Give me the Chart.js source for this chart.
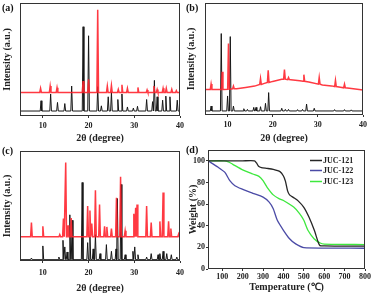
<!DOCTYPE html>
<html>
<head>
<meta charset="utf-8">
<script src="https://cdn.jsdelivr.net/npm/chart.js@4.4.0/dist/chart.umd.min.js"></script>
<style>
  body { margin: 0; background: #fff; }
  #fig { position: relative; width: 373px; height: 295px; overflow: hidden; }
  canvas { position: absolute; }
</style>
</head>
<body>
<div id="fig">
  <canvas id="pa" width="186" height="147" style="left:0;top:0"></canvas>
  <canvas id="pb" width="188" height="147" style="left:185px;top:0"></canvas>
  <canvas id="pc" width="186" height="150" style="left:0;top:145px"></canvas>
  <canvas id="pd" width="188" height="150" style="left:185px;top:145px"></canvas>
</div>
<script>
// XRD panels: peak positions (2θ) and peak tops (normalised intensity 0-100)
const xrdTicks = [10, 20, 30, 40];

// (a)
const aSimPos = [9.6, 11.7, 13.2, 14.8, 16.3, 18.8, 20.0, 22.0, 22.8, 24.3, 25.0, 26.4, 27.3, 28.5, 29.8, 30.7, 32.7, 34.0, 34.4, 35.0, 36.2, 36.9, 37.8, 39.4];
const aSimTop = [13.5, 19.5, 12, 11, 26.5, 79, 71, 26, 9, 17, 21, 14.6, 19.5, 8, 7, 8.6, 14.6, 12.7, 31.5, 17, 14, 17.6, 17, 14];
const aSimBase = 4.4;
const aExpPos = [9.5, 11.6, 13.1, 18.8, 20.0, 22.0, 24.1, 25.0, 26.5, 27.3, 28.5, 30.8, 32.8, 34.3, 35.0, 36.3, 37.0, 38.2, 39.2];
const aExpTop = [24.5, 26.5, 25, 31, 32.4, 94, 26.5, 27, 23.5, 27.6, 24.5, 25.3, 23, 26.5, 23.5, 24.5, 24.5, 23.5, 22.5];
const aExpBase = 20.8;

// (b)
const bSimPos = [6.35, 8.6, 10.0, 10.6, 11.3, 13.6, 14.4, 15.8, 16.3, 17.3, 18.4, 19.1, 22.0, 22.8, 23.5, 25.5, 26.6, 27.5, 29.2, 33.7, 35.9, 37.4];
const bSimTop = [8, 72.7, 17, 70, 8, 5.6, 5, 6.8, 6.8, 7.4, 10.4, 20, 6, 5, 5, 4.8, 5, 9.8, 6, 4.8, 4.8, 4.6];
const bSimBase = 3.6;
const bExpBgX = [5, 7, 9, 12, 14, 16, 18, 20, 22, 24, 26, 28, 31, 33, 35, 37, 40];
const bExpBgY = [22.8, 22.8, 22.8, 23.4, 24.6, 25.8, 28.0, 30.0, 32.0, 31.5, 30.6, 29.5, 26.8, 26.0, 24.8, 23.8, 22.3];
const bExpPos = [6.35, 8.8, 10.2, 11.3, 17.3, 19.0, 22.6, 23.5, 26.9, 30.3, 33.9, 35.9];
const bExpFoot = [22.8, 22.8, 23.0, 23.4, 27.2, 29.0, 32.0, 31.6, 30.1, 27.5, 25.4, 24.3];
const bExpTop = [27.6, 38.6, 63.8, 25.8, 32.6, 40, 40.6, 33.5, 36, 33.5, 31, 27.5];

// (c)
const cSimPos = [7.5, 10.0, 13.5, 14.4, 14.8, 15.3, 15.9, 16.4, 18.6, 19.8, 20.3, 21.0, 21.5, 22.5, 23.9, 25.0, 26.0, 26.3, 27.1, 28.0, 29.7, 30.1, 30.8, 32.7, 33.7, 35.2, 35.6, 36.3, 37.1, 38.1, 39.3];
const cSimTop = [2.7, 13.7, 3.6, 18.8, 12.8, 8.2, 42, 37, 71.4, 16.7, 21.9, 11, 24, 6.7, 14.9, 8.8, 11, 56.8, 69.6, 5.7, 8.8, 12.8, 5.7, 3.6, 6.7, 5.7, 6.7, 8.8, 6.7, 5.7, 3.6];
const cSimBase = 1.2;
const cExpPos = [7.5, 10.0, 13.7, 14.5, 15.0, 15.5, 16.2, 19.8, 20.3, 20.7, 21.5, 22.4, 23.5, 24.0, 25.0, 26.1, 27.0, 28.0, 29.9, 30.3, 30.6, 32.7, 33.7, 35.6, 36.3, 37.5, 38.0, 39.7];
const cExpTop = [35, 31.6, 24, 38.6, 89.5, 32.5, 39, 50, 46, 34, 64.4, 51.4, 31.5, 31, 29.5, 57.4, 76.6, 27.5, 43, 48.3, 51.4, 50, 35, 36, 62.3, 36, 29.5, 24.5];
const cExpBase = 22;

// (d) TGA
const tgaLabels = ["JUC-121", "JUC-122", "JUC-123"];
const tgaColors = ["#262626", "#4b4ba6", "#3ee83e"];
const tgaXTicks = [100, 200, 300, 400, 500, 600, 700, 800];
const tgaYTicks = [0, 20, 40, 60, 80, 100];
const t121 = [30, 100, 200, 258, 268, 278, 292, 320, 350, 383, 400, 410, 420, 430, 450, 472, 500, 525, 551, 570, 579, 600, 700, 800];
const w121 = [100, 100, 100, 100, 98, 95, 93.8, 93, 92, 90, 86, 81, 72.5, 68.5, 66, 63, 57, 48, 36, 25, 21.6, 21.3, 21.2, 21.2];
const t122 = [30, 80, 113, 137, 162, 195, 250, 300, 330, 350, 370, 400, 430, 460, 500, 800];
const w122 = [100, 94, 89.3, 81.6, 77, 74, 70, 66.4, 61.8, 55.7, 45, 35.8, 28, 23.2, 19.8, 19.2];
const t123 = [30, 110, 130, 150, 200, 250, 280, 300, 320, 350, 380, 400, 450, 480, 500, 520, 550, 580, 600, 800];
const w123 = [100, 100, 99, 97, 91.7, 87.8, 85.6, 81.6, 75.5, 68.5, 64.8, 63.3, 57.2, 51, 45, 35.8, 28, 24, 23, 22.6];

const SERIF = "'Liberation Serif', 'Times New Roman', serif";
const INK = "#222";
const RED = "rgba(255, 35, 45, 0.9)";

// sommets -> ligne (pied, sommet, pied) pour chaque pic
function pattern(pos, top, base, xMin, xMax, bgX, bgY) {
  const w = 0.18;
  const pts = [];
  pos.forEach((p, i) => {
    const b = Array.isArray(base) ? base[i] : base;
    pts.push({ x: p - w, y: b }, { x: p, y: top[i] }, { x: p + w, y: b });
  });
  if (bgX) {
    bgX.forEach((x, i) => pts.push({ x: x, y: bgY[i] }));
  } else {
    pts.push({ x: xMin, y: base }, { x: xMax, y: base });
  }
  return pts.sort((a, b) => a.x - b.x);
}

function framePlugin(label, lx, ly) {
  return {
    id: "frame",
    afterDraw(chart) {
      const { ctx, chartArea: a } = chart;
      ctx.save();
      ctx.strokeStyle = "#333";
      ctx.lineWidth = 1;
      ctx.strokeRect(Math.round(a.left) + 0.5, Math.round(a.top) + 0.5,
        Math.round(a.right - a.left) - 1, Math.round(a.bottom - a.top) - 1);
      ctx.fillStyle = "#111";
      ctx.font = "bold 10px " + SERIF;
      ctx.textBaseline = "middle";
      ctx.textAlign = "left";
      ctx.fillText(label, lx, ly);
      ctx.restore();
    },
  };
}

const tickFont = { family: SERIF, size: 8, weight: "bold" };
const titleFont = { family: SERIF, size: 10, weight: "bold" };

function xAxis(o) {
  return {
    type: "linear",
    min: o.min,
    max: o.max,
    afterBuildTicks: (s) => {
      s.ticks = o.ticks.map((v) => ({ value: v }));
    },
    afterFit: (s) => {
      s.height = o.h;
      s.paddingLeft = 0;
      s.paddingRight = 0;
    },
    grid: { drawOnChartArea: false, tickLength: o.tl, color: "#333" },
    border: { display: false },
    ticks: { color: INK, padding: o.pad, maxRotation: 0, font: tickFont },
    title: { display: true, text: o.title, color: INK, padding: { top: 0, bottom: o.tpad }, font: titleFont },
  };
}

function xrdChart(id, label, exp, sim, g) {
  return new Chart(document.getElementById(id), {
    type: "line",
    data: {
      datasets: [
        { data: exp, borderColor: RED, borderWidth: 1.5 },
        { data: sim, borderColor: "#151515", borderWidth: 1 },
      ],
    },
    options: {
      responsive: false,
      animation: false,
      events: [],
      layout: { padding: { top: g.top, right: g.right, left: 0, bottom: 0 } },
      elements: { point: { radius: 0 }, line: { tension: 0 } },
      plugins: { legend: { display: false }, tooltip: { enabled: false } },
      scales: {
        x: xAxis({ min: 5, max: 40, ticks: xrdTicks, h: g.h, tl: 2, pad: g.pad, title: "2θ (degree)", tpad: g.tpad }),
        y: {
          min: 0,
          max: 100,
          afterFit: (s) => {
            s.width = 20;
          },
          ticks: { display: false },
          grid: { display: false },
          border: { display: false },
          title: { display: true, text: "Intensity (a.u.)", color: INK, padding: { top: g.ypad, bottom: 0 }, font: titleFont },
        },
      },
    },
    plugins: [framePlugin(label, g.lx, g.ly)],
  });
}

xrdChart("pa", "(a)",
  pattern(aExpPos, aExpTop, aExpBase, 5, 40),
  pattern(aSimPos, aSimTop, aSimBase, 5, 40),
  { top: 3, right: 6, h: 31, pad: 3, tpad: 3, ypad: 1.5, lx: 2, ly: 8.5 });

xrdChart("pb", "(b)",
  pattern(bExpPos, bExpTop, bExpFoot, 5, 40, bExpBgX, bExpBgY),
  pattern(bSimPos, bSimTop, bSimBase, 5, 40),
  { top: 3, right: 10, h: 32, pad: 3, tpad: 3, ypad: 0, lx: 1, ly: 8 });

xrdChart("pc", "(c)",
  pattern(cExpPos, cExpTop, cExpBase, 5, 40),
  pattern(cSimPos, cSimTop, cSimBase, 5, 40),
  { top: 6, right: 6, h: 34, pad: 5, tpad: 1, ypad: 1, lx: 2, ly: 6 });

// (d) TGA
const tgaLegend = {
  id: "tgaLegend",
  afterDraw(chart) {
    const { ctx, chartArea: a } = chart;
    ctx.save();
    ctx.font = "bold 8px " + SERIF;
    ctx.textBaseline = "middle";
    ctx.textAlign = "left";
    chart.data.datasets.forEach((ds, i) => {
      const y = Math.round(a.top + 10 + i * 10.3) + 0.5;
      ctx.strokeStyle = ds.borderColor;
      ctx.lineWidth = 1.5;
      ctx.beginPath();
      ctx.moveTo(a.right - 55, y);
      ctx.lineTo(a.right - 43, y);
      ctx.stroke();
      ctx.fillStyle = INK;
      ctx.fillText(ds.label, a.right - 42, y);
    });
    ctx.restore();
  },
};

function toPts(t, w) {
  return t.map((x, i) => ({ x: x, y: w[i] }));
}

new Chart(document.getElementById("pd"), {
  type: "line",
  data: {
    datasets: [
      { label: tgaLabels[0], data: toPts(t121, w121), borderColor: tgaColors[0], borderWidth: 1.3 },
      { label: tgaLabels[1], data: toPts(t122, w122), borderColor: tgaColors[1], borderWidth: 1.3 },
      { label: tgaLabels[2], data: toPts(t123, w123), borderColor: tgaColors[2], borderWidth: 1.3 },
    ],
  },
  options: {
    responsive: false,
    animation: false,
    events: [],
    layout: { padding: { top: 5, right: 8, left: 0, bottom: 0 } },
    elements: { point: { radius: 0 }, line: { tension: 0.2 } },
    plugins: { legend: { display: false }, tooltip: { enabled: false } },
    scales: {
      x: xAxis({ min: 30, max: 800, ticks: tgaXTicks, h: 26, tl: 2, pad: 1, title: "Temperature (℃)", tpad: 2 }),
      y: {
        min: 0,
        max: 110,
        afterBuildTicks: (s) => {
          s.ticks = tgaYTicks.map((v) => ({ value: v }));
        },
        afterFit: (s) => {
          s.width = 23;
          s.paddingTop = 0;
          s.paddingBottom = 0;
        },
        grid: { drawOnChartArea: false, tickLength: 2, color: "#333" },
        border: { display: false },
        ticks: { color: INK, padding: 1, font: tickFont },
        title: { display: true, text: "Weight (%)", color: INK, padding: { top: 2, bottom: 0 }, font: titleFont },
      },
    },
  },
  plugins: [framePlugin("(d)", 1, 5), tgaLegend],
});
</script>
</body>
</html>
